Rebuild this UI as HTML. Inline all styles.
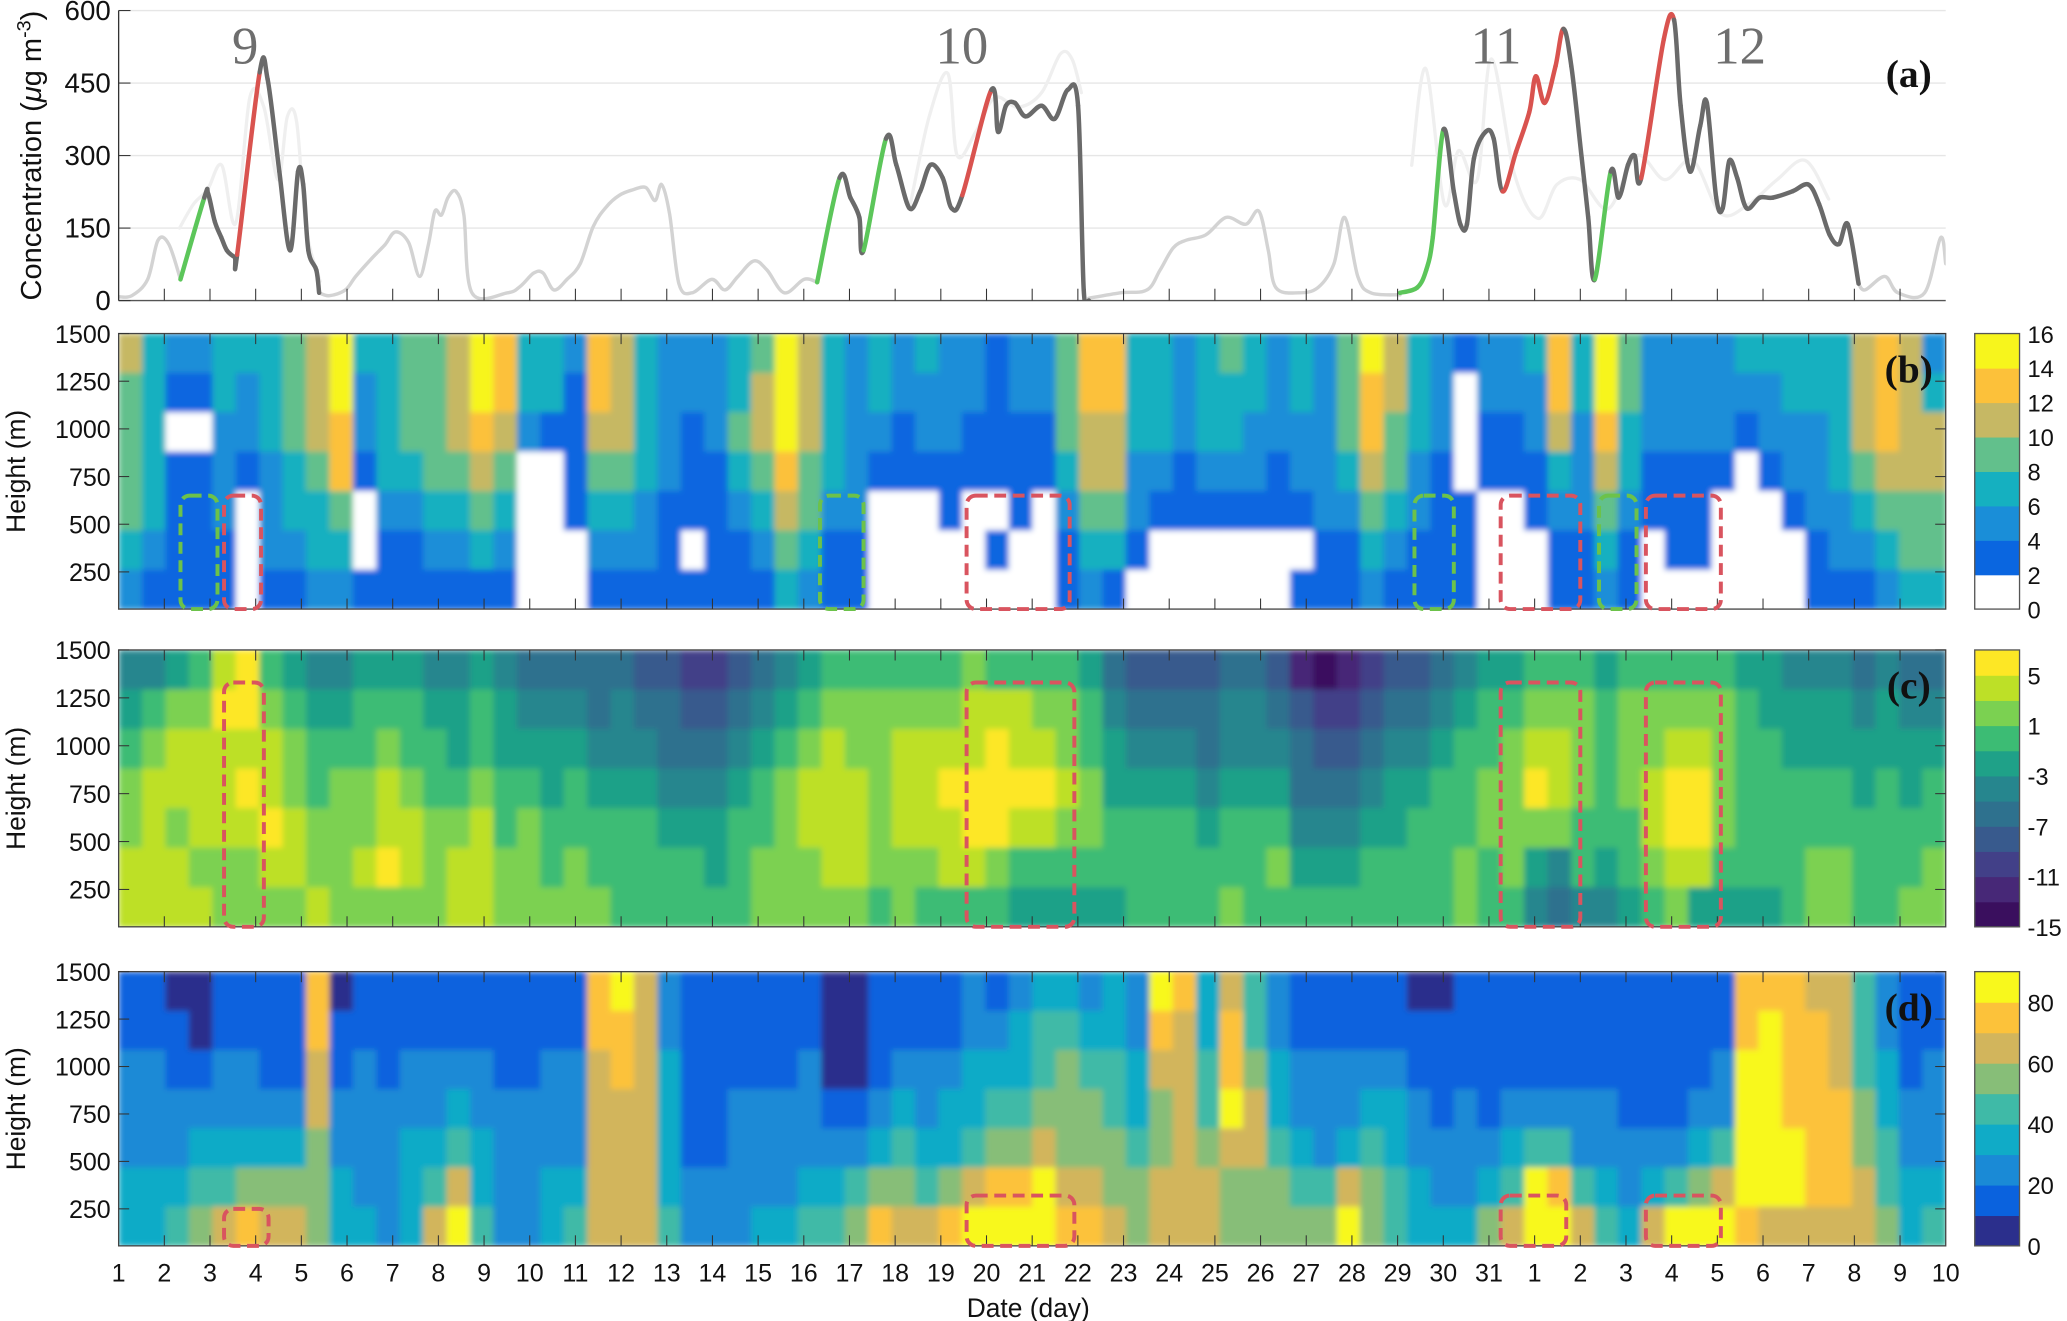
<!DOCTYPE html>
<html><head><meta charset="utf-8"><style>
html,body{margin:0;padding:0;background:#fff;}
svg{display:block;}
text{font-family:"Liberation Sans",Arial,sans-serif;fill:#111;}
</style></head><body>
<svg id="fig" xmlns="http://www.w3.org/2000/svg" width="2067" height="1321" viewBox="0 0 1568 1002" preserveAspectRatio="none">
<defs>
<filter id="bl" x="0" y="0" width="1" height="1"><feGaussianBlur stdDeviation="2.2" edgeMode="duplicate"/></filter>
<clipPath id="clipA"><rect x="90" y="0" width="1386" height="228"/></clipPath>
</defs>
<g id="gA"></g>
<g id="gB"></g>
<g id="gC"></g>
<g id="gD"></g>
<g id="gX"></g>
</svg>
<script>
// ---------- data ----------
const dayLabels = ['1','2','3','4','5','6','7','8','9','10','11','12','13','14','15','16','17','18','19','20','21','22','23','24','25','26','27','28','29','30','31','1','2','3','4','5','6','7','8','9','10'];
const concTicks = [0,150,300,450,600];
const heightTicks = [250,500,750,1000,1250,1500];

const grayT1 = [0,0.28,0.62,0.84,1.07,1.32];
const grayV1 = [8,10,44,125,117,44];
const grayT2 = [4.28,4.5,4.84,5.06,5.4,5.68,5.91,6.19,6.42,6.61,6.75,6.89,7.03,7.2,7.37,7.54,8.3,8.58,8.86,9.06,9.29,9.57,9.85,10.13,10.41,10.69,10.97,11.25,11.45,11.59,11.76,11.96,12.24,12.66,12.94,13.22,13.56,13.84,14.21,14.63,14.91];
const grayV2 = [16,10,22,50,87,115,142,120,50,115,185,177,213,226,177,16,16,30,57,57,22,44,76,153,194,218,229,234,207,240,180,35,16,44,22,50,82,63,16,44,38];
const grayT3 = [20.71,21.38,21.95,22.23,22.51,22.79,23.21,23.64,24.06,24.34,24.54,24.7,25.18,25.6,25.94,26.17,26.45,26.73,27.35];
const grayV3 = [5,16,22,63,109,125,136,172,158,185,104,27,16,27,76,172,50,16,12];
const grayT4 = [37.14,37.28,37.7,37.98,38.55,38.89,39];
const grayV4 = [35,22,50,16,16,130,76];

const faintT1 = [1.3,1.6,1.9,2.2,2.5,2.8,3.1,3.4,3.6,3.8,4.0,4.3];
const faintV1 = [150,200,230,280,160,420,400,250,380,370,150,40];
const faintT2 = [16.9,17.3,17.7,17.9,18.3,18.7,19.2,19.7,20.1,20.35,20.55];
const faintV2 = [200,380,470,300,350,420,400,430,510,500,430];
const faintT3 = [27.6,27.9,28.3,28.6,29.0,29.3,29.8,30.3,30.7,31.2,31.8,32.4,33.0,33.6,34.2,34.8,35.4,36.0,36.5];
const faintV3 = [280,480,200,310,250,500,260,170,240,250,190,300,250,290,180,200,250,290,210];

const evT = [
 [1.32,1.83,1.91,2.05,2.19,2.31,2.48,2.53,3.01,3.18,3.43,3.66,3.83,3.94,4.05,4.22,4.28],
 [14.91,15.39,15.62,15.81,15.9,16.38,16.6,16.88,17.11,17.33,17.59,17.78,18.01,18.63,18.77,18.94,19.13,19.36,19.7,19.98,20.26,20.48,20.6,20.71],
 [27.35,27.72,27.91,28.05,28.28,28.5,28.64,28.78,28.93,29.18,29.35,29.54,29.83,30.11,30.25,30.44,30.67,30.84,31.01,31.23,31.37,31.51,31.85,32.02,32.22,32.36,32.5,32.98,33.2,33.34,33.54,33.76,33.9,34.1,34.24,34.38,34.55,34.75,35.03,35.31,35.73,36.07,36.3,36.52,36.72,36.91,37.14]
];
const evV = [
 [44,213,221,164,131,104,90,95,472,458,267,104,267,240,104,63,16],
 [38,254,213,172,104,335,281,191,226,281,254,191,218,436,349,403,409,381,403,376,436,403,22,0],
 [16,27,63,131,354,226,158,158,294,349,335,226,308,390,464,409,485,562,485,294,172,44,267,213,281,300,253,540,581,403,267,362,409,213,191,289,253,191,213,213,226,240,199,136,117,158,35]
];
const evC = [
 'gkkkkkkrkkkkkkkkk',
 'gkkkgkkkkkkkrkkkkkkkkkkk',
 'ggggkkkkkkkrrrrrrkkkkgkkkkrrkkkkkkkkkkkkkkkkkkk'
];
const eventLabels = ['9','10','11','12'];
const eventLabelT = [2.7,18.0,29.4,34.6];

const colsB = ['5444432','3333321','2101111','2101111','3322211','3221000','3332221','4443321','5554332','7766432',
'3221001','3333211','4443211','4444321','5554321','7765431','6654321','3320000','3310000','2111100',
'6654321','5554321','3333221','2222111','2211101','2221111','3343211','4554321','7776543','5554432',
'3333211','2222211','3321000','2211000','3221000','2221100','2211000','1111010','2211100','2211000',
'4443211','6655432','6655431','3332210','3332100','2221100','3332100','4332100','3322100','2221100',
'3322101','2222211','4443211','7665432','5544321','3332211','2221111','1000111','2211000','2211000',
'3221100','6653211','3322211','7765432','4433211','2221100','2221110','2221110','2221000','3210000',
'3221000','3322100','3322211','3333221','5554321','6665432','5555443','2355443'];
const colsC = ['5678899','5789999','6899899','7899989','9a99988','aa9a988','7899a98','6788998','5677889','5678888',
'6778898','67899a8','6778998','5677888','5667899','6778999','5667788','4567888','4566778','4567788',
'4456778','4556777','3456777','3445677','2345677','2345667','3456777','4567788','5678888','6789988',
'7899998','7889998','7888887','7899988','7899987','789a997','899aa97','79aaa87','799a976','789a976',
'7889876','6778876','4566776','3456777','3456777','3456777','3445677','4556778','4556777','3456787',
'1344567','0234567','1234567','2345677','3456677','3456777','4567777','5677788','6778877','6788887',
'789a865','7899854','7888775','6777765','7888776','7889987','789aa98','789aa96','7888876','6777776',
'6677776','5667777','5667788','5667788','4566777','5667777','4566778','4567788'];
const colsD = ['1122233','1122233','0112234','0012345','1122346','1122357','1112356','1112356','7766555','0112233',
'1122223','1112222','1122333','1122346','1123468','1122334','1112222','1112222','1122233','1122234',
'7766666','8776666','6666666','2233334','1111122','1111122','1112222','1112223','1112223','1122234',
'0001234','0001245','1112357','1123456','1122346','1123357','2233468','1234578','2334578','3445688',
'3455567','2345567','3344556','2233455','8765566','7666666','3344566','6778655','4456655','2233455',
'1122345','1122245','1122368','1123455','1123344','0112233','0111223','1112223','1111235','1112346',
'1112488','1112478','1112246','1112234','1111223','1111236','1111248','1112358','1122468','7788887',
'7888886','7777886','6777776','6667776','4445566','2233445','1112233','1122234'];

const cbLabelsB = ['0','2','4','6','8','10','12','14','16'];
const cbLabelsC = ['-15','-11','-7','-3','1','5'];
const cbLabelsD = ['0','20','40','60','80'];

const boxesB = {t0:[1.32,2.25,14.97,18.1,27.66,29.5,31.6,32.6], t1:[2.11,3.04,15.9,20.3,28.5,31.2,32.4,34.2], h:[650,650,650,650,650,650,650,650], c:['g','r','g','r','g','r','g','r']};
const boxesC = {t0:[2.25,18.1,29.5,32.6], t1:[3.1,20.4,31.2,34.2], h:[1330,1330,1330,1330]};
const boxesD = {t0:[2.25,18.1,29.5,32.6], t1:[3.2,20.4,30.9,34.2], h:[250,320,320,320]};

// ---------- styles ----------
const palB = ['#ffffff','#0a66e0','#1a8ed8','#15b0c0','#62c08c','#c6b864','#fcc13a','#f7f51c'];
const palC = ['#3a0f5e','#472877','#424088','#385a8d','#2e718e','#26868e','#1fa188','#3cbc74','#7bd151','#bde027','#fde725'];
const palD = ['#2b2f8c','#0a62de','#1a8ad6','#10abc7','#3fbaa7','#87be78','#d2b55c','#fcc23a','#f8f81c'];

const NS='http://www.w3.org/2000/svg';
const X0=90, X1=1476, SPAN=39, NTICK=40;
const X=t=>X0+(X1-X0)*t/SPAN;
const XT=i=>X0+(X1-X0)*i/NTICK;
function mk(parent,tag,attrs,txt){const e=document.createElementNS(NS,tag);for(const k in attrs)e.setAttribute(k,attrs[k]);if(txt!==undefined)e.textContent=txt;parent.appendChild(e);return e;}

// ---------- panel a ----------
const gA=document.getElementById('gA');
const aTop=8,aBot=228;
const YA=v=>aBot-(aBot-aTop)*v/600;
concTicks.forEach(v=>{
  if(v>0){const gl=mk(gA,'line',{x1:X0,x2:X1,y1:YA(v),y2:YA(v),stroke:'#e6e6e6','stroke-width':1});
  
  }
  const tl=mk(gA,'text',{x:X0-6,y:YA(v)+7,'text-anchor':'end','font-size':21},v);
  
  
});
const yl=mk(gA,'text',{transform:'translate(31,118) rotate(-90)','text-anchor':'middle','font-size':22});


yl.innerHTML='Concentration (<tspan font-style="italic">μ</tspan>g m<tspan dy="-8" font-size="15">-3</tspan><tspan dy="8">)</tspan>';
const lines=mk(gA,'g',{'clip-path':'url(#clipA)'});
function segPath(P,i){
  const p0=P[Math.max(i-1,0)],p1=P[i],p2=P[i+1],p3=P[Math.min(i+2,P.length-1)];
  const c1=[p1[0]+(p2[0]-p0[0])/6,p1[1]+(p2[1]-p0[1])/6];
  const c2=[p2[0]-(p3[0]-p1[0])/6,p2[1]-(p3[1]-p1[1])/6];
  return `C${c1[0].toFixed(1)},${c1[1].toFixed(1)} ${c2[0].toFixed(1)},${c2[1].toFixed(1)} ${p2[0].toFixed(1)},${p2[1].toFixed(1)}`;
}
function smooth(g,T,V,color,w,name){
  const P=T.map((t,i)=>[X(t),YA(V[i])]);
  let d=`M${P[0][0].toFixed(1)},${P[0][1].toFixed(1)}`;
  for(let i=0;i<P.length-1;i++)d+=segPath(P,i);
  const p=mk(g,'path',{d:d,fill:'none',stroke:color,'stroke-width':w,'stroke-linejoin':'round','stroke-linecap':'round'});
  
  
}
smooth(lines,faintT1,faintV1,'#efefef',2.5,'faint-series-1');
smooth(lines,faintT2,faintV2,'#efefef',2.5,'faint-series-2');
smooth(lines,faintT3,faintV3,'#efefef',2.5,'faint-series-3');
smooth(lines,grayT1,grayV1,'#d3d3d3',2.6,'background-series-1');
smooth(lines,grayT2,grayV2,'#d3d3d3',2.6,'background-series-2');
smooth(lines,grayT3,grayV3,'#d3d3d3',2.6,'background-series-3');
smooth(lines,grayT4,grayV4,'#d3d3d3',2.6,'background-series-4');
const cmap={g:'#5cc65a',r:'#d9534f',k:'#6a6a6a'};
evT.forEach((T,e)=>{
  const P=T.map((t,i)=>[X(t),YA(evV[e][i])]);
  for(let i=0;i<P.length-1;i++){
    const s=mk(lines,'path',{d:`M${P[i][0].toFixed(1)},${P[i][1].toFixed(1)}`+segPath(P,i),fill:'none',stroke:cmap[evC[e][i]],'stroke-width':3.4,'stroke-linecap':'round'});
    
    
  }
});
mk(gA,'line',{x1:X0,x2:X0,y1:aTop,y2:aBot,stroke:'#333','stroke-width':1});
mk(gA,'line',{x1:X0,x2:X1,y1:aBot,y2:aBot,stroke:'#555','stroke-width':1});
for(let i=1;i<NTICK;i++)mk(gA,'line',{x1:XT(i),x2:XT(i),y1:aBot,y2:aBot-9,stroke:'#333','stroke-width':0.8});
concTicks.forEach(v=>mk(gA,'line',{x1:X0,x2:X0+9,y1:YA(v),y2:YA(v),stroke:'#333','stroke-width':0.8}));
eventLabels.forEach((l,i)=>{
  const t=mk(gA,'text',{x:X(eventLabelT[i]),y:48,'text-anchor':'middle','font-size':40,style:'font-family:"Liberation Serif",serif;fill:#6e6e6e'},l);
  
  
});
const la=mk(gA,'text',{x:1448,y:66,'text-anchor':'middle','font-size':30,'font-weight':'bold',style:'font-family:"Liberation Serif",serif'},'(a)');



// ---------- contour panels ----------
function panel(gid,top,bot,cols,pal,label,boxes,cbLabels,cbValsTop,name){
  const g=document.getElementById(gid);
  const hBot=55;
  const Y=h=>top+(bot-top)*(1500-h)/(1500-hBot);
  const nr=cols[0].length, nc=cols.length;
  const rh=(bot-top)/nr, cw=(X1-X0)/nc;
  const cid='clip'+name;
  const cp=mk(g,'clipPath',{id:cid});
  mk(cp,'rect',{x:X0,y:top,width:X1-X0,height:bot-top});
  const outer=mk(g,'g',{'clip-path':`url(#${cid})`});
  const cg=mk(outer,'g',{filter:'url(#bl)'});
  cols.forEach((col,c)=>{
    for(let r=0;r<nr;r++){
      const lv=parseInt(col[r],16);
      const cell=mk(cg,'rect',{x:(X0+c*cw).toFixed(2),y:(top+r*rh).toFixed(2),width:(cw+0.6).toFixed(2),height:(rh+0.6).toFixed(2),fill:pal[lv]});
      
      
    }
  });
  mk(g,'rect',{x:X0,y:top,width:X1-X0,height:bot-top,fill:'none',stroke:'#444','stroke-width':1});
  for(let i=1;i<NTICK;i++){mk(g,'line',{x1:XT(i),x2:XT(i),y1:bot,y2:bot-8,stroke:'#333','stroke-width':0.8});mk(g,'line',{x1:XT(i),x2:XT(i),y1:top,y2:top+8,stroke:'#333','stroke-width':0.8});}
  heightTicks.forEach(h=>{
    mk(g,'line',{x1:X0,x2:X0+8,y1:Y(h),y2:Y(h),stroke:'#333','stroke-width':0.8});
    mk(g,'line',{x1:X1,x2:X1-8,y1:Y(h),y2:Y(h),stroke:'#333','stroke-width':0.8});
    const tl=mk(g,'text',{x:X0-6,y:Y(h)+7,'text-anchor':'end','font-size':19},h);
    
    
  });
  const yt=mk(g,'text',{transform:`translate(19,${(top+bot)/2}) rotate(-90)`,'text-anchor':'middle','font-size':20},'Height (m)');
  
  
  boxes.t0.forEach((t0,i)=>{
    const col=(boxes.c&&boxes.c[i]==='g')?'#6cc24a':'#d9545f';
    const b=mk(g,'rect',{x:X(t0),y:Y(boxes.h[i]),width:X(boxes.t1[i])-X(t0),height:bot-Y(boxes.h[i]),rx:7,fill:'none',stroke:col,'stroke-width':3,'stroke-dasharray':'9,5'});
    
    
  });
  const pl=mk(g,'text',{x:1448,y:top+37,'text-anchor':'middle','font-size':30,'font-weight':'bold',style:'font-family:"Liberation Serif",serif'},label);
  
  
  const cbx=1498,cbw=34,n=pal.length,sh=(bot-top)/n;
  pal.forEach((c,i)=>{
    const s=mk(g,'rect',{x:cbx,y:bot-(i+1)*sh,width:cbw,height:sh+0.5,fill:c});
    
    
  });
  mk(g,'rect',{x:cbx,y:top,width:cbw,height:bot-top,fill:'none',stroke:'#555','stroke-width':1});
  cbLabels.forEach((l,i)=>{
    const yy=bot-(bot-top)*i/(cbLabels.length-1)*cbValsTop;
    const t=mk(g,'text',{x:1538,y:yy+7,'font-size':18},l);
    
    
  });
}
panel('gB',253,462,colsB,palB,'(b)',boxesB,cbLabelsB,1,'b');
panel('gC',493,703,colsC,palC,'(c)',boxesC,cbLabelsC,10/11,'c');
panel('gD',737,945,colsD,palD,'(d)',boxesD,cbLabelsD,8/9,'d');

// ---------- x axis ----------
const gX=document.getElementById('gX');
dayLabels.forEach((l,i)=>{
  const t=mk(gX,'text',{x:XT(i),y:972,'text-anchor':'middle','font-size':19},l);
  
  
});
const xt=mk(gX,'text',{x:780,y:999,'text-anchor':'middle','font-size':20},'Date (day)');


</script>
</body></html>
